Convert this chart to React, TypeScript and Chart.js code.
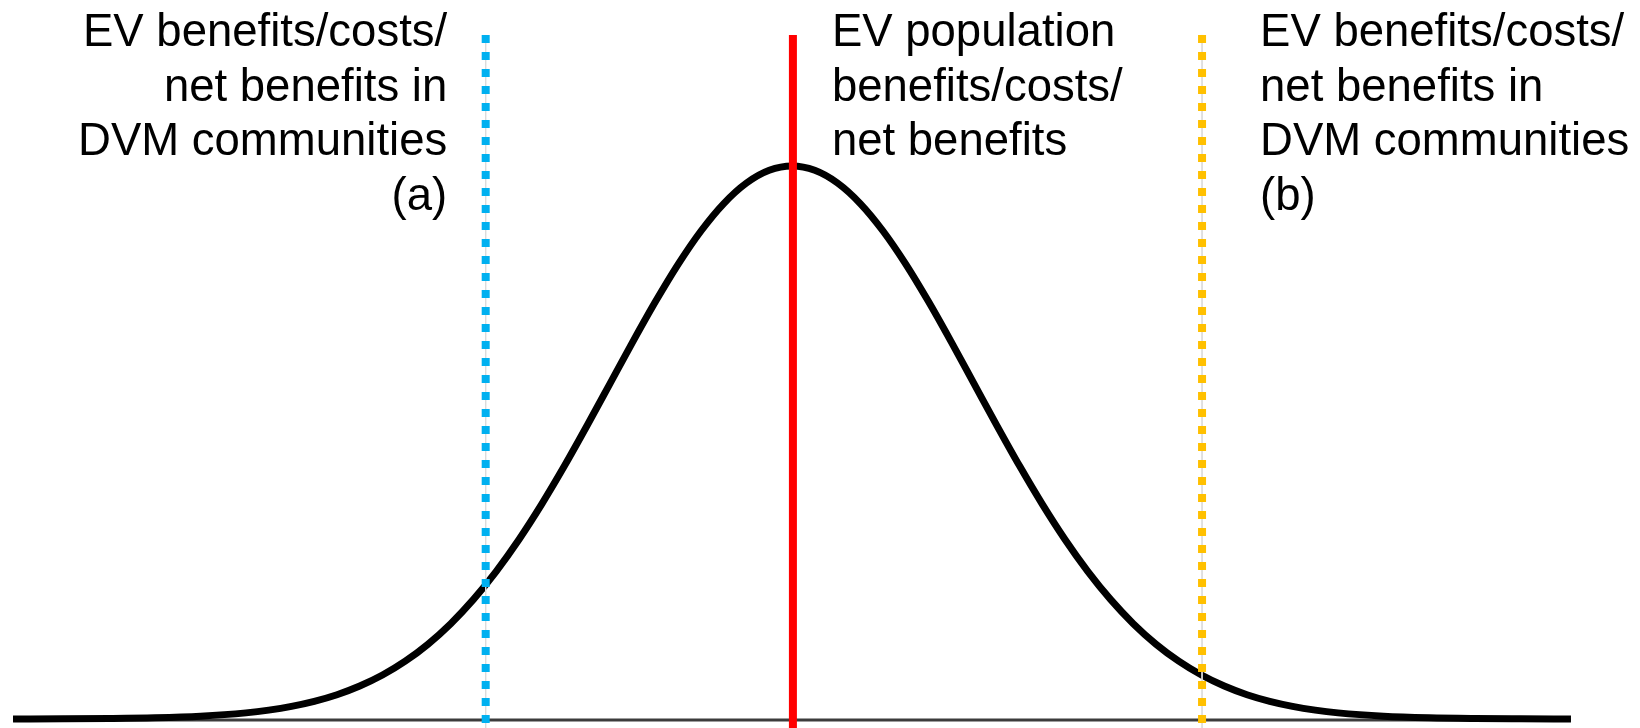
import React, { useEffect, useRef } from "react";
import { Chart, registerables } from "chart.js";

Chart.register(...registerables);

// Bell curve (x in spread units, y as % of peak)
const curveX = [
  -4.28, -4.0, -3.75, -3.5, -3.25, -3.0, -2.875, -2.75, -2.625, -2.5, -2.375, -2.25, -2.125, -2.0, -1.875, -1.75,
  -1.625, -1.5, -1.375, -1.25, -1.125, -1.0, -0.875, -0.75, -0.625, -0.5, -0.375, -0.25, -0.125,
  0,
  0.125, 0.25, 0.375, 0.5, 0.625, 0.75, 0.875, 1.0, 1.125, 1.25, 1.375, 1.5, 1.625, 1.75, 1.875, 2.0, 2.125, 2.25,
  2.375, 2.5, 2.625, 2.75, 2.875, 3.0, 3.25, 3.5, 3.75, 4.0, 4.28,
];
const curveY = [
  0, 0.03, 0.09, 0.22, 0.51, 1.11, 1.6, 2.28, 3.19, 4.39, 5.96, 7.95, 10.46, 13.53, 17.24, 21.63,
  26.71, 32.47, 38.86, 45.78, 53.11, 60.65, 68.19, 75.48, 82.26, 88.25, 93.21, 96.92, 99.22,
  100,
  99.22, 96.92, 93.21, 88.25, 82.26, 75.48, 68.19, 60.65, 53.11, 45.78, 38.86, 32.47, 26.71, 21.63, 17.24, 13.53,
  10.46, 7.95, 5.96, 4.39, 3.19, 2.28, 1.6, 1.11, 0.51, 0.22, 0.09, 0.03, 0,
];

// Marker positions (same x units)
const populationX = 0.005;
const groupAX = -1.683;
const groupBX = 2.253;
const markerTop = 123.7;
const markerBottom = -3;
const baselineValue = -0.2;
const baselineStart = -4.28;
const baselineEnd = 4.28;

// Axis ranges
const xMin = -4.3516;
const xMax = 4.6593;
const yMin = -1.627;
const yMax = 130.02;

// Label texts
const leftLabel = ["EV benefits/costs/", "net benefits in", "DVM communities", "(a)"];
const midLabel = ["EV population", "benefits/costs/", "net benefits"];
const rightLabel = ["EV benefits/costs/", "net benefits in", "DVM communities", "(b)"];

const labelPlugin = {
  id: "curveLabels",
  afterDatasetsDraw(chart: any) {
    const ctx = chart.ctx;
    const xs = chart.scales.x;
    const lineBases = [46, 100.5, 155, 209.5];
    ctx.save();
    ctx.font = '45.5px "Liberation Sans", Arial, sans-serif';
    ctx.fillStyle = "#000000";
    ctx.textBaseline = "alphabetic";
    ctx.textAlign = "right";
    const lx = xs.getPixelForValue(groupAX) - 38.5;
    leftLabel.forEach((t, i) => ctx.fillText(t, lx, lineBases[i]));
    ctx.textAlign = "left";
    const mx = xs.getPixelForValue(populationX) + 39;
    midLabel.forEach((t, i) => ctx.fillText(t, mx, lineBases[i]));
    const rx = xs.getPixelForValue(groupBX) + 58;
    rightLabel.forEach((t, i) => ctx.fillText(t, rx, lineBases[i]));
    ctx.restore();
  },
};

export default function App() {
  const ref = useRef<HTMLCanvasElement | null>(null);

  useEffect(() => {
    document.body.style.margin = "0";
    const canvas = ref.current;
    if (!canvas) return;
    const vline = (x: number) => [
      { x, y: markerTop },
      { x, y: markerBottom },
    ];
    const chart = new Chart(canvas, {
      type: "line",
      data: {
        datasets: [
          {
            label: "population",
            data: vline(populationX),
            borderColor: "#FF0000",
            borderWidth: 8,
            borderCapStyle: "butt",
            pointRadius: 0,
            tension: 0,
          },
          {
            label: "group a",
            data: vline(groupAX),
            borderColor: "#00B0F0",
            borderWidth: 8,
            borderDash: [8, 9],
            borderCapStyle: "butt",
            pointRadius: 0,
            tension: 0,
          },
          {
            label: "group b",
            data: vline(groupBX),
            borderColor: "#FFC000",
            borderWidth: 8,
            borderDash: [8, 9],
            borderCapStyle: "butt",
            pointRadius: 0,
            tension: 0,
          },
          {
            label: "guide a",
            data: vline(groupAX),
            borderColor: "#dcdcdc",
            borderWidth: 1,
            pointRadius: 0,
            tension: 0,
          },
          {
            label: "guide b",
            data: vline(groupBX),
            borderColor: "#dcdcdc",
            borderWidth: 1,
            pointRadius: 0,
            tension: 0,
          },
          {
            label: "distribution",
            data: curveX.map((x, i) => ({ x, y: curveY[i] })),
            borderColor: "#000000",
            borderWidth: 7,
            borderCapStyle: "butt",
            borderJoinStyle: "round",
            pointRadius: 0,
            cubicInterpolationMode: "monotone",
          },
          {
            label: "baseline",
            data: [
              { x: baselineStart, y: baselineValue },
              { x: baselineEnd, y: baselineValue },
            ],
            borderColor: "#3c3c3c",
            borderWidth: 3,
            pointRadius: 0,
            tension: 0,
          },
        ],
      },
      options: {
        animation: false,
        responsive: false,
        events: [],
        layout: { padding: 0 },
        plugins: {
          legend: { display: false },
          tooltip: { enabled: false },
          title: { display: false },
        },
        scales: {
          x: { type: "linear", min: xMin, max: xMax, display: false },
          y: { type: "linear", min: yMin, max: yMax, display: false },
        },
      },
      plugins: [labelPlugin],
    } as any);
    return () => chart.destroy();
  }, []);

  return (
    <div style={{ width: 1640, height: 728, background: "#ffffff" }}>
      <canvas ref={ref} width={1640} height={728} style={{ display: "block" }} />
    </div>
  );
}
